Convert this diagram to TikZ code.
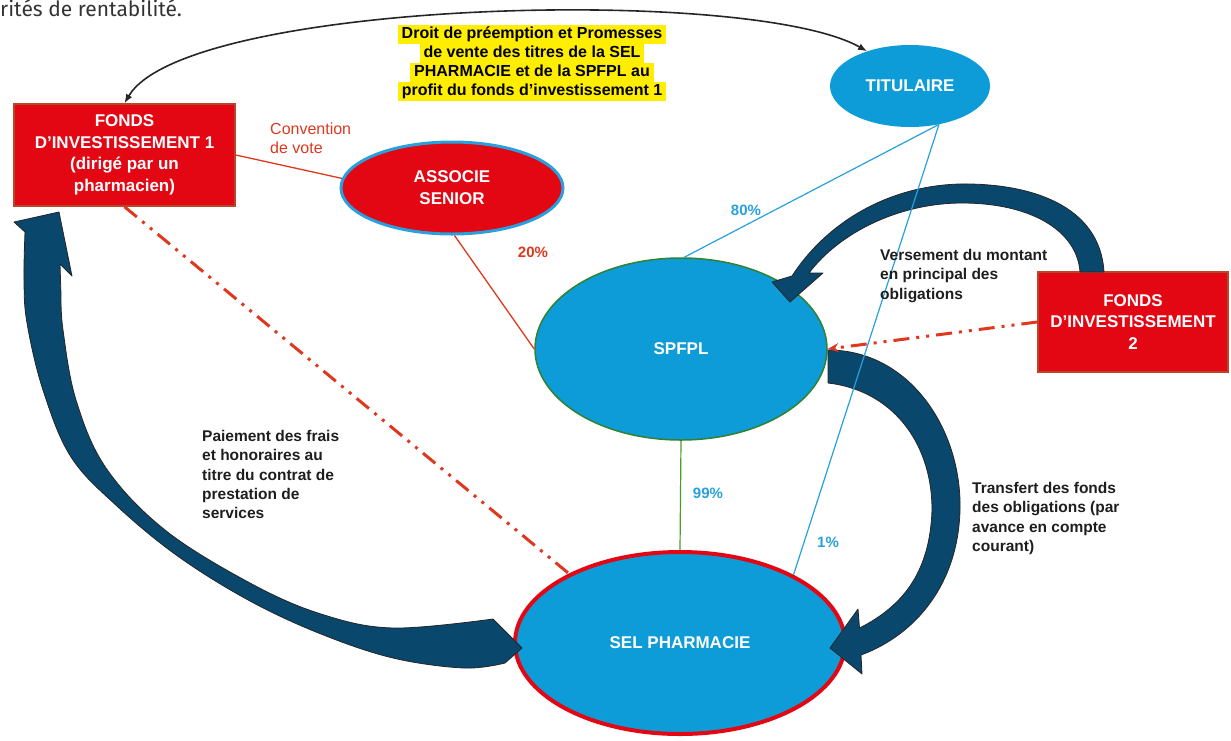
\documentclass[tikz,border=0pt]{standalone}
\usepackage{fontspec}
\setmainfont{Liberation Sans}
\newfontfamily\firafont{Fira Sans}
\usetikzlibrary{arrows.meta,shapes.geometric}
\definecolor{boxred}{RGB}{227,6,19}
\definecolor{boxedge}{RGB}{185,70,40}
\definecolor{ellblue}{RGB}{14,156,216}
\definecolor{lineblue}{RGB}{40,160,222}
\definecolor{darkarrow}{RGB}{9,72,108}
\definecolor{hlyellow}{RGB}{255,238,0}
\definecolor{linered}{RGB}{222,56,30}
\definecolor{spgreen}{RGB}{46,130,50}
\definecolor{lbl}{RGB}{30,30,30}
\setlength{\fboxsep}{0pt}
\newcommand\hly[1]{\colorbox{hlyellow}{\strut\hspace{4pt}#1\hspace{4pt}}}
\begin{document}
\begin{tikzpicture}[x=1pt,y=-1pt,
  redbox/.style={draw=boxedge, line width=1.5pt, fill=boxred, text=white,
    font=\bfseries\fontsize{17}{21.5}\selectfont, align=center, inner sep=0pt},
  ell/.style={ellipse, fill=ellblue, text=white,
    font=\bfseries\fontsize{17}{22}\selectfont, align=center, inner sep=0pt},
  bigarrow/.style={fill=darkarrow, draw=black!85, line width=0.8pt, line join=round},
  lbltext/.style={text=lbl, font=\bfseries\fontsize{15.5}{19.3}\selectfont, align=left, inner sep=0pt},
  pct/.style={font=\bfseries\fontsize{15}{18}\selectfont, inner sep=0pt},
  thinblue/.style={draw=lineblue, line width=1.2pt},
  thinred/.style={draw=linered, line width=1.3pt},
  ddline/.style={draw=linered, line width=3pt,
    dash pattern=on 16pt off 7pt on 3pt off 7pt on 3pt off 7pt},
]
\useasboundingbox (0,0) rectangle (1231,740);
\clip (0,0) rectangle (1231,740);

% text line at the top
\node[anchor=base west, inner sep=0pt, text=black!80,
  font=\firafont\fontsize{21}{25}\selectfont] (cut) at (0,16) {rités de rentabilité.};

% nodes
\node[redbox, minimum width=221pt, minimum height=102pt] (f1) at (124.5,155)
  {FONDS\\D’INVESTISSEMENT 1\\(dirigé par un\\pharmacien)};
\node[redbox, minimum width=190pt, minimum height=100pt] (f2) at (1133,322)
  {FONDS\\D’INVESTISSEMENT\\2};
\node[ell, draw=lineblue, line width=3pt, fill=boxred, minimum width=222pt, minimum height=92pt]
  (as) at (452,188) {ASSOCIE\\SENIOR};
\node[ell, minimum width=160pt, minimum height=82pt] (tit) at (910,86) {TITULAIRE};
\node[ell, draw=spgreen, line width=1.5pt, minimum width=292pt, minimum height=182pt]
  (sp) at (681,349) {SPFPL};
\node[ell, draw=boxred, line width=4pt, minimum width=330pt, minimum height=182pt]
  (sel) at (680,643) {SEL PHARMACIE};

\node[font=\bfseries\fontsize{16}{19}\selectfont, align=center, inner sep=0pt] (droit) at (532,63)
  {\hly{Droit de préemption et Promesses}\\\hly{de vente des titres de la SEL}\\
   \hly{PHARMACIE et de la SPFPL au}\\\hly{profit du fonds d’investissement 1}};

% big curved arrows
\path[bigarrow] (14,222) -- (59,212) -- (72,276) -- (60,264)
  -- plot[smooth, tension=0.6] coordinates {(61,295) (63,330) (76,400) (106,468) (165,530)
     (250,583) (321,614) (393,628) (493,619)}
  -- (522,648)
  -- plot[smooth, tension=0.6] coordinates {(505,663) (464,668) (393,658) (321,634) (250,601)
     (179,557) (118,507) (71,457) (43,390) (27,323) (24,280) (25,232)}
  -- cycle;
\path[bigarrow] (1104,272) .. controls (1100,205) and (1030,183) .. (960,184)
  .. controls (885,186) and (825,225) .. (792,276)
  -- (772,282) -- (790,302) -- (823,273) -- (809,273)
  .. controls (840,232) and (900,203) .. (962,203)
  .. controls (1030,203) and (1077,230) .. (1080,272) -- cycle;
\path[bigarrow] (828,350) .. controls (910,350) and (962,430) .. (960,510)
  .. controls (958,585) and (915,635) .. (861,655)
  -- (862,674) -- (830,648) -- (858,609) -- (859.5,628)
  .. controls (905,605) and (930,570) .. (932,510)
  .. controls (932,440) and (890,390) .. (828,383) -- cycle;

% connectors
\draw[line width=1.6pt, black!85, {Latex[length=9pt,width=7pt]}-{Latex[length=9pt,width=7pt]}]
  (f1.north) .. controls (185,0) and (750,-15) .. (tit.141);
\draw[thinred] (f1.east) -- (as.175);
\draw[thinred] (as.-87) -- (sp.west);
\draw[thinblue] (tit.-53) -- (sp.88);
\draw[thinblue] (tit.-53) -- (sel.31.6);
\draw[draw=spgreen!80!lime, line width=1.2pt] (sp.south) -- (sel.north);
\draw[ddline, -{Stealth[length=11pt,width=9pt]}] (f2.west) -- (sp.east);
\draw[ddline] (f1.south) -- (sel.148);

% labels
\node[anchor=north west, text=linered, font=\fontsize{16}{19}\selectfont, align=left, inner sep=0pt]
  (conv) at (270,123) {Convention\\de vote};
\node[pct, text=linered] (p20) at (533,252) {20\%};
\node[pct, text=lineblue] (p80) at (746,210) {80\%};
\node[pct, text=lineblue] (p99) at (708,493) {99\%};
\node[pct, text=lineblue] (p1) at (828,542) {1\%};
\node[lbltext, anchor=north west] (vers) at (880,249)
  {Versement du montant\\en principal des\\obligations};
\node[lbltext, anchor=north west] (paie) at (202,430)
  {Paiement des frais\\et honoraires au\\titre du contrat de\\prestation de\\services};
\node[lbltext, anchor=north west] (trans) at (972,482)
  {Transfert des fonds\\des obligations (par\\avance en compte\\courant)};
\end{tikzpicture}
\end{document}
